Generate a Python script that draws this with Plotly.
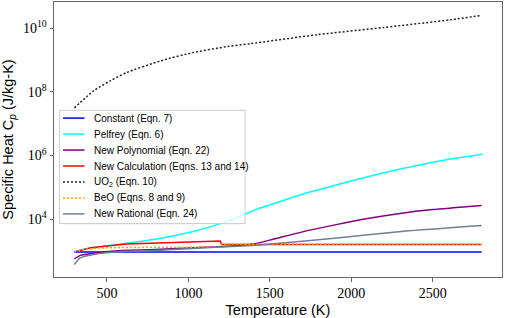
import plotly.graph_objects as go

# ---- data (Temperature K, Specific heat J/kg-K) ----
T_const = [300, 2800]
cp_const = [920, 920]

T_pelfrey = [300, 400, 500, 620, 830, 1030, 1240, 1440, 1503, 1690, 1913, 2120, 2322, 2550, 2805]
cp_pelfrey = [955, 1230, 1445, 1738, 2512, 4074, 8511, 22390, 28180, 58880, 120200, 229100, 398100, 691800, 1096000]

T_poly = [300, 336, 418, 623, 827, 1032, 1237, 1400, 1500, 1700, 1900, 2100, 2300, 2500, 2800]
cp_poly = [562, 724, 851, 1047, 1122, 1259, 1413, 1660, 2188, 3981, 6607, 10470, 15140, 19950, 26920]

T_calc = [300, 400, 620, 830, 1030, 1195, 1205, 2800]
cp_calc = [933, 1259, 1660, 1778, 1905, 2042, 1585, 1585]

T_uo2 = [300, 420, 520, 620, 830, 1030, 1240, 1380, 1790, 2200, 2610, 2800]
cp_uo2 = [3.16e7, 1.10e8, 2.24e8, 4.07e8, 9.55e8, 1.74e9, 2.69e9, 3.31e9, 6.31e9, 1.07e10, 1.86e10, 2.57e10]

T_beo = [300, 350, 450, 600, 1195, 1205, 2800]
cp_beo = [933, 1096, 1230, 1288, 1318, 1622, 1622]

T_rat = [300, 336, 418, 623, 827, 1032, 1237, 1442, 1540, 1913, 2322, 2800]
cp_rat = [372, 603, 776, 977, 1047, 1202, 1349, 1549, 1698, 2570, 4169, 6310]

series_names = ["Constant (Eqn. 7)", "Pelfrey (Eqn. 6)", "New Polynomial (Eqn. 22)",
                "New Calculation (Eqns. 13 and 14)", "UO<sub>2</sub> (Eqn. 10)",
                "BeO (Eqns. 8 and 9)", "New Rational (Eqn. 24)"]

y_tickvals = [1e4, 1e6, 1e8, 1e10]
y_ticktext = ["10<sup>4</sup>", "10<sup>6</sup>", "10<sup>8</sup>", "10<sup>10</sup>"]
x_tickvals = [500, 1000, 1500, 2000, 2500]

styles = [
    dict(color="blue", width=1.5),
    dict(color="cyan", width=1.5, shape="spline", smoothing=0.6),
    dict(color="purple", width=1.5, shape="spline", smoothing=0.6),
    dict(color="red", width=1.5),
    dict(color="#222222", width=1.5, dash="2px,2px", shape="spline", smoothing=0.6),
    dict(color="orange", width=1.5, dash="2px,2px"),
    dict(color="slategray", width=1.5, shape="spline", smoothing=0.6),
]
xs = [T_const, T_pelfrey, T_poly, T_calc, T_uo2, T_beo, T_rat]
ys = [cp_const, cp_pelfrey, cp_poly, cp_calc, cp_uo2, cp_beo, cp_rat]

fig = go.Figure()
for x, y, nm, st in zip(xs, ys, series_names, styles):
    fig.add_trace(go.Scatter(x=x, y=y, mode="lines", name=nm, line=st, showlegend=False))

# ---- legend drawn to match the reference's compact matplotlib legend ----
L, R, TOP, BOT = 54, 502, 2, 277.5
W, H = R - L, BOT - TOP
px = lambda v: (v - L) / W
py = lambda v: (BOT - v) / H
shapes = [dict(type="rect", xref="paper", yref="paper", layer="above",
               x0=px(59.5), x1=px(245), y0=py(224), y1=py(110.5),
               line=dict(color="#cccccc", width=1), fillcolor="rgba(255,255,255,0.8)")]
annotations = []
for i, (nm, st) in enumerate(zip(series_names, styles)):
    yc = py(118.3 + 16 * i)
    shapes.append(dict(type="line", xref="paper", yref="paper", layer="above",
                       x0=px(63), x1=px(84.5), y0=yc, y1=yc,
                       line=dict(color=st["color"], width=1.5, dash=st.get("dash", "solid"))))
    annotations.append(dict(text=nm, xref="paper", yref="paper", x=px(91.5), y=yc,
                            xanchor="left", yanchor="middle", showarrow=False,
                            font=dict(family="Liberation Sans", size=10, color="black")))

axis_common = dict(showline=True, mirror=True, linecolor="#666666", linewidth=1,
                   ticks="outside", ticklen=3.5, tickcolor="#666666", showgrid=False, zeroline=False,
                   automargin=False,
                   tickfont=dict(family="Liberation Serif", size=14, color="black"))

fig.update_layout(
    width=505, height=318,
    margin=dict(l=L, r=505 - R, t=TOP, b=318 - BOT),
    paper_bgcolor="white", plot_bgcolor="white",
    showlegend=False,
    shapes=shapes, annotations=annotations,
    xaxis=dict(range=[175, 2925], tickvals=x_tickvals,
               title=dict(text="Temperature (K)",
                          font=dict(family="Liberation Sans", size=14.5, color="black")),
               **axis_common),
    yaxis=dict(type="log", range=[2.18, 10.83], tickvals=y_tickvals, ticktext=y_ticktext,
               title=dict(text="Specific Heat C<sub><i>p</i></sub> (J/kg-K)",
                          font=dict(family="Liberation Sans", size=14.5, color="black")),
               **axis_common),
)

fig.write_html("out.html", config={"displayModeBar": False},
               post_script="document.body.style.margin='0';document.body.style.overflow='hidden';")
